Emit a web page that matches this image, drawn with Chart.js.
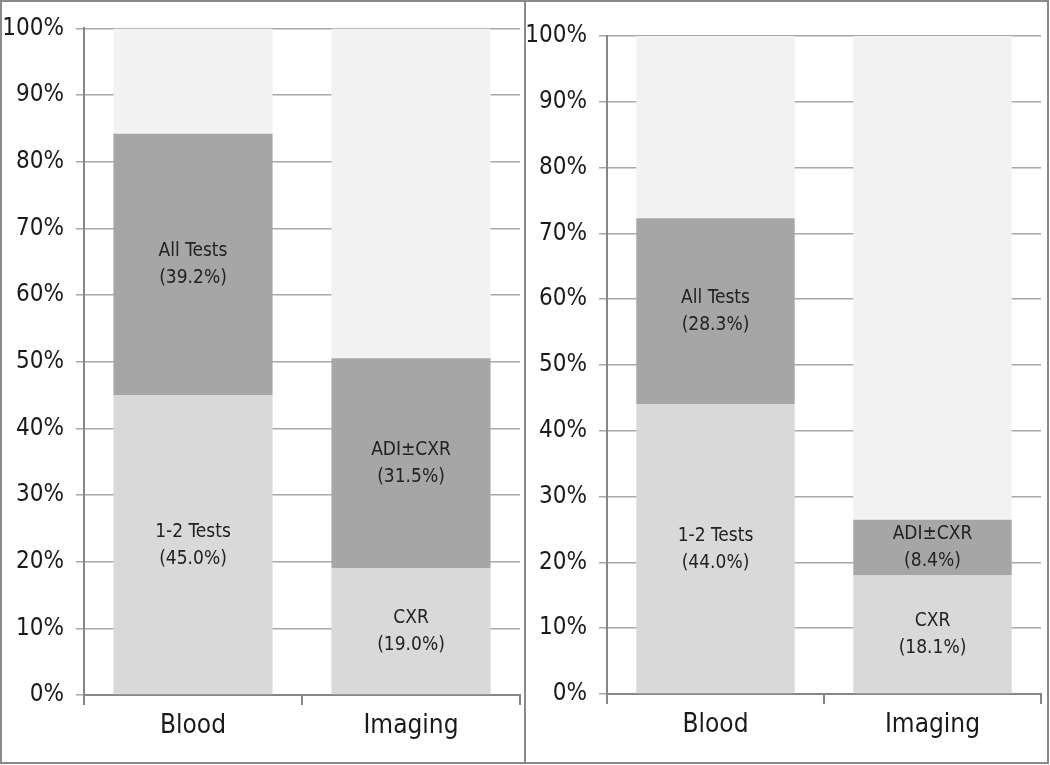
<!DOCTYPE html>
<html>
<head>
<meta charset="utf-8">
<script src="https://cdn.jsdelivr.net/npm/chart.js@4/dist/chart.umd.min.js"></script>
<style>
  body { margin: 0; background: #fff; }
  #wrap { position: relative; width: 1050px; height: 765px; }
  .panel { position: absolute; top: 0; height: 764px; box-sizing: border-box; border: 2px solid #8a8a8a; }
  #leftPanel { left: 0; width: 526px; }
  #rightPanel { left: 524px; width: 525px; }
  .panel canvas { display: block; }
</style>
</head>
<body>
<div id="wrap">
  <div class="panel" id="leftPanel"><canvas id="leftChart" width="522" height="760"></canvas></div>
  <div class="panel" id="rightPanel"><canvas id="rightChart" width="521" height="760"></canvas></div>
</div>
<script>
// Stacked shares per test group (percent)
const categories = ['Blood', 'Imaging'];
const lowerNames = ['1-2 Tests', 'CXR'];
const middleNames = ['All Tests', 'ADI\u00b1CXR'];

const leftLower = [45.0, 19.0];
const leftMiddle = [39.2, 31.5];
const leftUpper = [15.8, 49.5];

const rightLower = [44.0, 18.1];
const rightMiddle = [28.3, 8.4];
const rightUpper = [27.7, 73.5];

const yTicks = [0, 10, 20, 30, 40, 50, 60, 70, 80, 90, 100];

const FONT = '"Liberation Sans Narrow", "Arial Narrow", "DejaVu Sans Condensed", sans-serif';

// Draws "name" + "(value%)" in the middle of each labelled segment
const segmentLabels = {
  id: 'segmentLabels',
  afterDatasetsDraw(chart) {
    const ctx = chart.ctx;
    ctx.save();
    ctx.font = '19px ' + FONT;
    ctx.fillStyle = '#222';
    ctx.textAlign = 'center';
    ctx.textBaseline = 'middle';
    chart.data.datasets.forEach((ds, i) => {
      if (!ds.names) return;
      chart.getDatasetMeta(i).data.forEach((bar, j) => {
        const mid = (bar.y + bar.base) / 2;
        ctx.fillText(ds.names[j], bar.x, mid - 13);
        ctx.fillText('(' + ds.data[j].toFixed(1) + '%)', bar.x, mid + 14);
      });
    });
    ctx.restore();
  }
};

function makeChart(id, lower, middle, upper, yWidth, top, xHeight, right) {
  return new Chart(document.getElementById(id), {
    type: 'bar',
    data: {
      labels: categories,
      datasets: [
        { data: lower, names: lowerNames, backgroundColor: '#d9d9d9' },
        { data: middle, names: middleNames, backgroundColor: '#a6a6a6' },
        { data: upper, backgroundColor: '#f2f2f2' }
      ]
    },
    options: {
      responsive: false,
      animation: false,
      categoryPercentage: 1,
      barPercentage: 0.73,
      layout: { padding: { top: top, right: right, bottom: 0, left: 0 } },
      scales: {
        x: {
          stacked: true,
          afterFit: s => { s.height = xHeight; },
          grid: { drawOnChartArea: false, color: '#868686', lineWidth: 2, tickLength: 10 },
          border: { color: '#868686', width: 2 },
          ticks: { color: '#1a1a1a', font: { family: FONT, size: 26 }, padding: 6 }
        },
        y: {
          stacked: true,
          min: 0,
          max: 100,
          afterFit: s => { s.width = yWidth; },
          afterBuildTicks: s => { s.ticks = yTicks.map(v => ({ value: v })); },
          grid: { color: '#a8a8a8', lineWidth: 1.5, tickLength: 8 },
          border: { color: '#868686', width: 2 },
          ticks: {
            color: '#1a1a1a',
            font: { family: FONT, size: 24 },
            padding: 12,
            callback: v => v + '%'
          }
        }
      },
      plugins: {
        legend: { display: false },
        tooltip: { enabled: false }
      }
    },
    plugins: [segmentLabels]
  });
}

makeChart('leftChart', leftLower, leftMiddle, leftUpper, 82, 26, 67, 4);
makeChart('rightChart', rightLower, rightMiddle, rightUpper, 81, 34, 68, 6);
</script>
</body>
</html>
